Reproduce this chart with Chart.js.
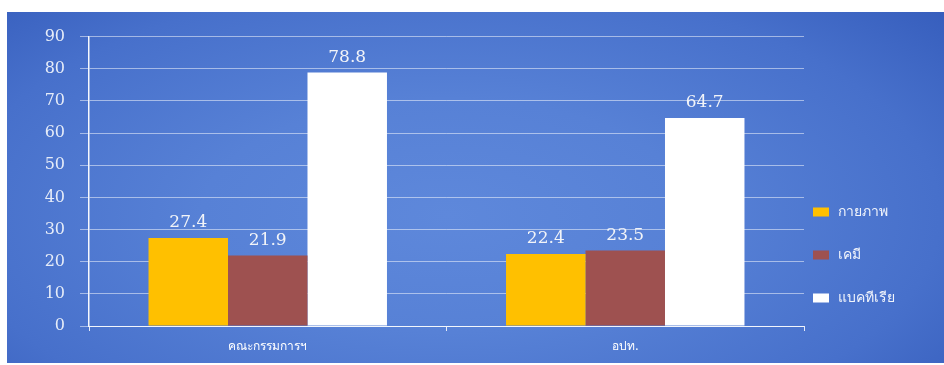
<!DOCTYPE html>
<html>
<head>
<meta charset="utf-8">
<script src="https://cdn.jsdelivr.net/npm/chart.js@4/dist/chart.umd.min.js"></script>
<style>
  html, body { margin: 0; padding: 0; background: #fff; width: 944px; height: 365px; overflow: hidden; }
  #box {
    position: absolute; left: 7px; top: 12px; width: 937px; height: 351px;
    background: radial-gradient(ellipse 75% 95% at 47% 58%, #5e88db 0%, #5781d6 35%, #4770cb 70%, #3259b9 100%);
  }
</style>
</head>
<body>
<div id="box"><canvas id="myChart"></canvas></div>
<script>
const categories = ['คณะกรรมการฯ', 'อปท.'];
const seriesNames = ['กายภาพ', 'เคมี', 'แบคทีเรีย'];
const physical = [27.4, 22.4];
const chemical = [21.9, 23.5];
const bacteria = [78.8, 64.7];
const seriesColors = ['#FFC000', '#9E5150', '#FFFFFF'];

// value labels above each bar
const barValues = {
  id: 'barValues',
  afterDatasetsDraw(chart) {
    const ctx = chart.ctx;
    ctx.save();
    ctx.font = '17px "DejaVu Serif", serif';
    ctx.fillStyle = '#f2f4f8';
    ctx.textAlign = 'center';
    ctx.textBaseline = 'middle';
    chart.data.datasets.forEach((ds, i) => {
      chart.getDatasetMeta(i).data.forEach((bar, j) => {
        ctx.fillText(ds.data[j].toFixed(1), bar.x, bar.y - 15);
      });
    });
    ctx.restore();
  }
};

// legend on the right, lower half
const sideLegend = {
  id: 'sideLegend',
  afterDraw(chart) {
    const ctx = chart.ctx;
    ctx.save();
    ctx.font = '14px "Noto Sans", sans-serif';
    ctx.textBaseline = 'middle';
    chart.data.datasets.forEach((ds, i) => {
      const y = 200 + i * 43;
      ctx.fillStyle = ds.backgroundColor;
      ctx.fillRect(806, y - 4.5, 16, 9);
      ctx.fillStyle = 'rgba(255,255,255,0.92)';
      ctx.fillText(ds.label, 831, y);
    });
    ctx.restore();
  }
};

let myChart = document.getElementById('myChart').getContext('2d');

let thisChart = new Chart(myChart, {
  type: 'bar',
  data: {
    labels: categories,
    datasets: [
      { label: seriesNames[0], data: physical, backgroundColor: seriesColors[0] },
      { label: seriesNames[1], data: chemical, backgroundColor: seriesColors[1] },
      { label: seriesNames[2], data: bacteria, backgroundColor: seriesColors[2] }
    ]
  },
  options: {
    responsive: true,
    maintainAspectRatio: false,
    animation: false,
    categoryPercentage: 0.667,
    barPercentage: 1.0,
    layout: { padding: { top: 21, right: 140, left: 0, bottom: 0 } },
    plugins: {
      legend: { display: false },
      tooltip: { enabled: false }
    },
    scales: {
      x: {
        afterFit(scale) { scale.height = 37; },
        grid: {
          drawOnChartArea: false,
          drawTicks: true,
          tickLength: 5,
          color: 'rgba(255,255,255,0.85)'
        },
        border: { color: 'rgba(255,255,255,0.85)', width: 1 },
        ticks: {
          color: '#ffffff',
          padding: 8,
          font: { family: '"Noto Sans", sans-serif', size: 12 }
        }
      },
      y: {
        min: 0,
        max: 90,
        afterFit(scale) { scale.width = 82; },
        grid: {
          color: 'rgba(255,255,255,0.5)',
          lineWidth: 1,
          drawTicks: true,
          tickLength: 9
        },
        border: { color: 'rgba(255,255,255,0.95)', width: 1.5 },
        ticks: {
          stepSize: 10,
          padding: 15,
          color: '#e6ecf8',
          font: { family: '"DejaVu Serif", serif', size: 16 }
        }
      }
    }
  },
  plugins: [barValues, sideLegend]
});
</script>
</body>
</html>
